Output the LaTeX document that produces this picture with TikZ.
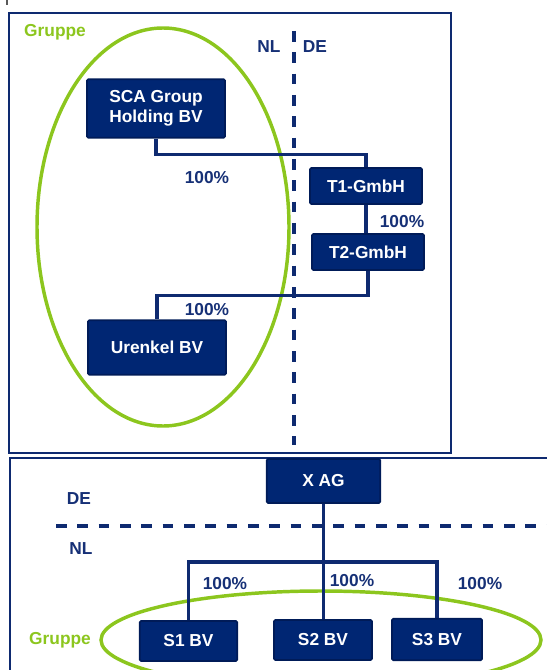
\documentclass[tikz,border=0pt]{standalone}
\usepackage{fontspec}
\setmainfont{Liberation Sans}
\definecolor{navy}{RGB}{0,38,115}
\definecolor{navyedge}{RGB}{0,27,88}
\definecolor{linenavy}{RGB}{14,42,112}
\definecolor{lblnavy}{RGB}{22,48,118}
\definecolor{gruen}{RGB}{140,198,30}
\tikzset{
  entity/.style={draw=navyedge, fill=navy, line width=1.3pt, rounded corners=1pt,
    text=white, font=\fontsize{13}{15}\selectfont\bfseries, align=center, inner sep=0pt},
  conn/.style={draw=linenavy, line width=2.4pt},
  pct/.style={text=lblnavy, font=\fontsize{13}{15}\selectfont\bfseries, inner sep=0pt},
  country/.style={text=lblnavy, font=\fontsize{13}{15}\selectfont\bfseries, inner sep=0pt},
  grouplbl/.style={text=gruen, font=\fontsize{13}{15}\selectfont\bfseries, inner sep=0pt},
  groupring/.style={draw=gruen, line width=2.6pt},
  frame/.style={draw=linenavy, line width=1.2pt},
  border/.style={draw=linenavy, line width=2.6pt, dash pattern=on 8pt off 8pt}
}
\begin{document}
\begin{tikzpicture}[x=0.75pt, y=-0.75pt]
\useasboundingbox (0,0) rectangle (546,670);
% fragment at top-left
\draw[gray!70!black, line width=1pt] (7,0) -- (7,5);
% frames
\draw[frame] (8.7,12.9) rectangle (451,453);
\draw[frame] (560,458) -- (10,458) -- (10,680);
% group rings
\draw[groupring] (163,227) ellipse [x radius=126, y radius=199];
\draw[groupring] (321,640) ellipse [x radius=220, y radius=49];
% borders
\coordinate (bt) at (294,31);
\coordinate (bb) at (294,445);
\draw[border] (bt) -- (bb);
\coordinate (hl) at (56,526);
\coordinate (hr) at (560,526);
\draw[border] (hl) -- (hr);
% labels
\node[grouplbl] (g1) at (55,32) {Gruppe};
\node[grouplbl] (g2) at (60,640) {Gruppe};
\node[country] (nl1) at (269,47) {NL};
\node[country] (de1) at (315,47) {DE};
\node[country] (de2) at (79,499) {DE};
\node[country] (nl2) at (81,549) {NL};
% entities
\node[entity, minimum width=103.5pt, minimum height=44pt] (sca) at (156,108.5) {SCA Group\\Holding BV};
\node[entity, minimum width=84pt, minimum height=27pt] (t1) at (366,186) {T1-GmbH};
\node[entity, minimum width=84pt, minimum height=27pt] (t2) at (368,252) {T2-GmbH};
\node[entity, minimum width=103.5pt, minimum height=41pt] (ur) at (157,347.5) {Urenkel BV};
\node[entity, minimum width=85pt, minimum height=33pt] (xag) at (323.5,481) {X AG};
\node[entity, minimum width=73pt, minimum height=30pt] (s1) at (188.5,641) {S1 BV};
\node[entity, minimum width=73.5pt, minimum height=30pt] (s2) at (323,640) {S2 BV};
\node[entity, minimum width=67.5pt, minimum height=31pt] (s3) at (437,639.5) {S3 BV};
% connectors
\draw[conn] (sca.south) -- ++(0,16) -| (t1.north);
\draw[conn] (t1.south) -- (t1.south |- t2.north);
\draw[conn] (t2.south) -- ++(0,25) -| (ur.north);
\draw[conn] (xag.south) -- (xag.south |- s2.north);
\coordinate (hub) at (323.5,562);
\draw[conn] (s1.north) |- (hub) -| (s3.north);
% percentages
\node[pct] (p1) at (207,178) {100\%};
\node[pct] (p2) at (402,222) {100\%};
\node[pct] (p3) at (207,310) {100\%};
\node[pct] (p4) at (225,584) {100\%};
\node[pct] (p5) at (352,581) {100\%};
\node[pct] (p6) at (480,584) {100\%};
\end{tikzpicture}
\end{document}
